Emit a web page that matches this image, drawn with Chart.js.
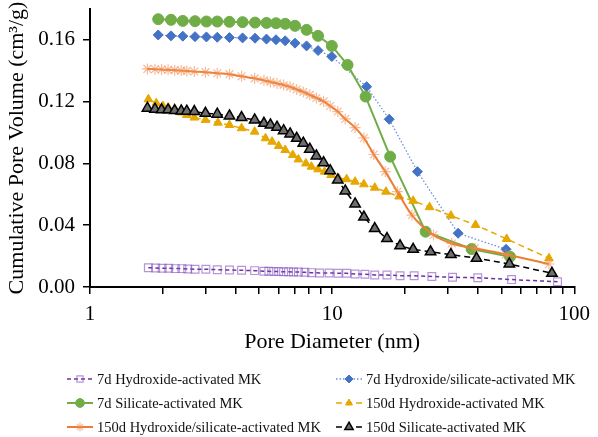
<!DOCTYPE html>
<html lang="en">
<head>
<meta charset="UTF-8">
<title>Cumulative Pore Volume</title>
<script src="https://cdn.jsdelivr.net/npm/chart.js"></script>
<style>
  body { margin: 0; background: #fff; }
  #wrap { width: 598px; height: 437px; }
</style>
</head>
<body>
<div id="wrap"><canvas id="poreChart" width="598" height="437"></canvas></div>

<script>
// series names (legend order)
const seriesNames = [
    '7d Hydroxide-activated MK',
    '7d Hydroxide/silicate-activated MK',
    '7d Silicate-activated MK',
    '150d Hydroxide-activated MK',
    '150d Hydroxide/silicate-activated MK',
    '150d Silicate-activated MK'
];

// pore diameter (nm) and cumulative pore volume (cm3/g)
const d7Hyd = [1.742, 1.867, 1.986, 2.114, 2.251, 2.395, 2.533, 2.715, 3.010, 3.354, 3.767, 4.227, 4.786, 5.228, 5.478, 5.740, 6.015, 6.304, 6.607, 6.923, 7.255, 7.716, 8.215, 8.880, 9.72, 10.58, 11.48, 12.44, 13.66, 15.00, 16.85, 19.08, 21.81, 25.81, 31.42, 39.96, 55.10, 85.3];
const v7Hyd = [0.0125, 0.0123, 0.0121, 0.0121, 0.0119, 0.0119, 0.0117, 0.0115, 0.0115, 0.0112, 0.0110, 0.0108, 0.0106, 0.0102, 0.0102, 0.0100, 0.0100, 0.0099, 0.0099, 0.0097, 0.0097, 0.0095, 0.0093, 0.0091, 0.0091, 0.0089, 0.0089, 0.0084, 0.0082, 0.0078, 0.0078, 0.0073, 0.0073, 0.0068, 0.0063, 0.0060, 0.0048, 0.0034];

const d7HydSil = [1.913, 2.161, 2.417, 2.715, 3.026, 3.354, 3.767, 4.267, 4.805, 5.356, 5.865, 6.400, 7.027, 7.841, 8.746, 9.97, 13.88, 17.21, 22.51, 33.14, 52.29];
const v7HydSil = [0.1632, 0.1626, 0.1624, 0.1621, 0.1619, 0.1617, 0.1615, 0.1613, 0.1611, 0.1605, 0.1601, 0.1594, 0.1579, 0.1561, 0.1531, 0.1492, 0.1297, 0.1086, 0.0747, 0.0348, 0.0244];

const d7Sil = [1.913, 2.161, 2.417, 2.715, 3.026, 3.354, 3.767, 4.267, 4.805, 5.356, 5.865, 6.400, 7.027, 7.841, 8.746, 9.97, 11.58, 13.75, 17.37, 24.33, 37.67, 54.28];
const v7Sil = [0.1734, 0.1730, 0.1723, 0.1721, 0.1719, 0.1719, 0.1717, 0.1715, 0.1712, 0.1710, 0.1708, 0.1704, 0.1691, 0.1665, 0.1626, 0.1561, 0.1438, 0.1233, 0.0844, 0.0358, 0.0246, 0.0196];

const d150Hyd = [1.742, 1.878, 1.999, 2.114, 2.251, 2.381, 2.510, 2.697, 2.998, 3.377, 3.767, 4.227, 4.786, 5.307, 5.649, 6.015, 6.400, 6.878, 7.255, 7.789, 8.215, 8.748, 9.305, 9.906, 10.65, 11.48, 12.44, 13.53, 15.00, 16.69, 18.90, 21.61, 25.26, 30.95, 39.12, 52.58, 78.64];
const v150Hyd = [0.1216, 0.1190, 0.1172, 0.1158, 0.1147, 0.1130, 0.1114, 0.1097, 0.1082, 0.1064, 0.1049, 0.1028, 0.1006, 0.0963, 0.0941, 0.0913, 0.0887, 0.0855, 0.0826, 0.0800, 0.0779, 0.0762, 0.0747, 0.0725, 0.0704, 0.0698, 0.0682, 0.0665, 0.0643, 0.0617, 0.0586, 0.0558, 0.0517, 0.0462, 0.0402, 0.0311, 0.0186];

const d150HydSil = [1.726, 1.855, 1.975, 2.101, 2.237, 2.381, 2.510, 2.697, 2.998, 3.354, 3.767, 4.227, 4.786, 5.228, 5.561, 5.920, 6.304, 6.707, 7.141, 7.602, 8.086, 8.609, 9.218, 9.815, 10.55, 11.33, 12.44, 13.53, 14.86, 16.58, 18.60, 21.35, 26.22, 31.18, 38.86, 52.19, 78.64];
const v150HydSil = [0.1412, 0.1410, 0.1408, 0.1406, 0.1404, 0.1401, 0.1399, 0.1395, 0.1391, 0.1384, 0.1378, 0.1364, 0.1351, 0.1338, 0.1328, 0.1318, 0.1308, 0.1296, 0.1279, 0.1263, 0.1244, 0.1224, 0.1202, 0.1172, 0.1136, 0.1088, 0.1032, 0.0965, 0.0858, 0.0747, 0.0617, 0.0466, 0.0337, 0.0282, 0.0251, 0.0211, 0.0149];

const d150Sil = [1.726, 1.855, 1.975, 2.101, 2.237, 2.381, 2.510, 2.697, 2.998, 3.354, 3.767, 4.227, 4.786, 5.228, 5.561, 5.920, 6.304, 6.707, 7.141, 7.602, 8.086, 8.609, 9.218, 9.815, 10.55, 11.33, 12.44, 13.53, 15.00, 16.85, 19.08, 21.61, 25.50, 30.95, 39.48, 53.92, 80.88];
const v150Sil = [0.1158, 0.1151, 0.1147, 0.1147, 0.1142, 0.1140, 0.1138, 0.1136, 0.1125, 0.1119, 0.1108, 0.1097, 0.1082, 0.1060, 0.1049, 0.1035, 0.1012, 0.0991, 0.0963, 0.0931, 0.0892, 0.0849, 0.0805, 0.0753, 0.0693, 0.0622, 0.0538, 0.0453, 0.0378, 0.0314, 0.0267, 0.0244, 0.0228, 0.0210, 0.0186, 0.0149, 0.0089];

// axis ticks
const yTicks = [0, 0.04, 0.08, 0.12, 0.16];
const xTicks = [1, 2, 3, 4, 5, 6, 7, 8, 9, 10, 20, 30, 40, 50, 60, 70, 80, 90, 100];
const xTickLabels = [1, 10, 100];

const serif = '"Liberation Serif", "Times New Roman", serif';

function pts(d, v) {
    return d.map((x, i) => ({ x: x, y: v[i] }));
}

const datasets = [
    {
        label: seriesNames[0], data: pts(d7Hyd, v7Hyd),
        borderColor: '#7030A0', borderWidth: 1.5, borderDash: [4, 3],
        pointStyle: 'rect', pointRadius: 5.5, pointBorderWidth: 1.2,
        pointBorderColor: 'rgba(130,80,190,0.6)', pointBackgroundColor: 'rgba(255,255,255,0)'
    },
    {
        label: seriesNames[1], data: pts(d7HydSil, v7HydSil),
        borderColor: '#6D8FD8', borderWidth: 1.3, borderDash: [1.5, 2],
        pointStyle: 'rectRot', pointRadius: 5, pointBorderWidth: 1,
        pointBorderColor: '#4472C4', pointBackgroundColor: '#4472C4'
    },
    {
        label: seriesNames[2], data: pts(d7Sil, v7Sil),
        borderColor: '#70AD47', borderWidth: 2, borderDash: [],
        pointStyle: 'circle', pointRadius: 5.5, pointBorderWidth: 1,
        pointBorderColor: '#70AD47', pointBackgroundColor: '#70AD47'
    },
    {
        label: seriesNames[3], data: pts(d150Hyd, v150Hyd),
        borderColor: '#E6A700', borderWidth: 1.5, borderDash: [6, 4],
        pointStyle: 'triangle', pointRadius: 5, pointBorderWidth: 1,
        pointBorderColor: '#E6A700', pointBackgroundColor: '#E6A700'
    },
    {
        label: seriesNames[4], data: pts(d150HydSil, v150HydSil),
        borderColor: '#ED7D31', borderWidth: 2, borderDash: [],
        cubicInterpolationMode: 'monotone',
        pointStyle: 'star', pointRadius: 5.5, pointBorderWidth: 1.2,
        pointBorderColor: 'rgba(240,140,80,0.6)', pointBackgroundColor: 'rgba(240,140,80,0.6)'
    },
    {
        label: seriesNames[5], data: pts(d150Sil, v150Sil),
        borderColor: '#000000', borderWidth: 1.5, borderDash: [6, 4],
        pointStyle: 'triangle', pointRadius: 6, pointBorderWidth: 1.5,
        pointBorderColor: '#000000', pointBackgroundColor: '#6E6E6E'
    }
];
// later series drawn on top
datasets.forEach((ds, i) => { ds.showLine = true; ds.order = datasets.length - i; });

// two-column legend under the plot
const gridLegend = {
    id: 'gridLegend',
    afterDraw(chart) {
        const ctx = chart.ctx;
        ctx.save();
        chart.data.datasets.forEach((ds, i) => {
            const col = i % 2;
            const row = Math.floor(i / 2);
            const cx = col === 0 ? 80 : 349;
            const cy = 379 + row * 24;

            ctx.beginPath();
            ctx.setLineDash(ds.borderDash || []);
            ctx.strokeStyle = ds.borderColor;
            ctx.lineWidth = ds.borderWidth;
            ctx.moveTo(cx - 13, cy);
            ctx.lineTo(cx + 13, cy);
            ctx.stroke();
            ctx.setLineDash([]);

            ctx.fillStyle = ds.pointBackgroundColor;
            ctx.strokeStyle = ds.pointBorderColor;
            ctx.lineWidth = ds.pointBorderWidth;
            Chart.helpers.drawPoint(ctx, {
                pointStyle: ds.pointStyle,
                radius: ds.pointRadius * 0.8,
                rotation: 0,
                borderWidth: ds.pointBorderWidth
            }, cx, cy);

            ctx.fillStyle = '#111';
            ctx.font = '14.5px ' + serif;
            ctx.textAlign = 'left';
            ctx.textBaseline = 'middle';
            ctx.fillText(ds.label, cx + 17, cy + 1);
        });
        ctx.restore();
    }
};

new Chart(document.getElementById('poreChart'), {
    type: 'scatter',
    data: { datasets: datasets },
    options: {
        responsive: false,
        animation: false,
        layout: { padding: { top: 9, right: 16, bottom: 80, left: 0 } },
        plugins: {
            legend: { display: false },
            tooltip: { enabled: false }
        },
        scales: {
            x: {
                type: 'logarithmic',
                min: 1,
                max: 100,
                afterBuildTicks: scale => { scale.ticks = xTicks.map(v => ({ value: v })); },
                afterFit: scale => { scale.height = 70; },
                border: { color: '#000', width: 2 },
                grid: { drawOnChartArea: false, drawTicks: true, tickLength: 7, color: '#000', lineWidth: 1.5 },
                ticks: {
                    autoSkip: false,
                    maxRotation: 0,
                    padding: 8,
                    color: '#000',
                    font: { family: serif, size: 21 },
                    callback: value => xTickLabels.includes(value) ? String(value) : ''
                },
                title: {
                    display: true,
                    text: 'Pore Diameter (nm)',
                    color: '#000',
                    font: { family: serif, size: 22 },
                    padding: { top: 0, bottom: 2 }
                }
            },
            y: {
                min: 0,
                max: 0.18,
                afterBuildTicks: scale => { scale.ticks = yTicks.map(v => ({ value: v })); },
                afterFit: scale => {
                    scale.width = 90;
                    scale.paddingTop = 0;
                    scale.paddingBottom = 0;
                },
                border: { color: '#000', width: 2 },
                grid: { drawOnChartArea: false, drawTicks: true, tickLength: 7, color: '#000', lineWidth: 1.5 },
                ticks: {
                    padding: 8,
                    color: '#000',
                    font: { family: serif, size: 21 },
                    callback: value => value.toFixed(2)
                },
                title: {
                    display: true,
                    text: 'Cumulative Pore Volume (cm³/g)',
                    color: '#000',
                    font: { family: serif, size: 22 },
                    padding: { top: 4, bottom: 0 }
                }
            }
        }
    },
    plugins: [gridLegend]
});
</script>
</body>
</html>
